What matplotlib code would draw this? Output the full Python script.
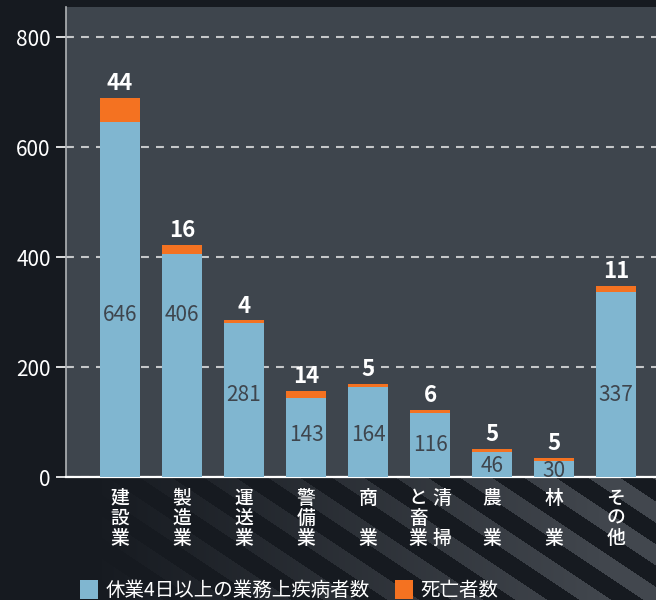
import numpy as np
import matplotlib
matplotlib.use("Agg")
import matplotlib.pyplot as plt
from matplotlib.transforms import ScaledTranslation, blended_transform_factory
from matplotlib.patches import Patch

plt.rcParams['font.family'] = ['Noto Sans CJK JP', 'DejaVu Sans']

# ---- data ----
categories = ["建設業", "製造業", "運送業", "警備業", "商業", "清掃と畜業", "農業", "林業", "その他"]
# vertical label layout (columns, each 3 rows; full-width space = blank row)
label_columns = [["建設業"], ["製造業"], ["運送業"], ["警備業"], ["商　業"],
                 ["と畜業", "清　掃"], ["農　業"], ["林　業"], ["その他"]]
illness = [646, 406, 281, 143, 164, 116, 46, 30, 337]
deaths = [44, 16, 4, 14, 5, 6, 5, 5, 11]
inner_label_y = [295, 295, 149, 76, 76, 58, 20, 11, 149]
yticks = [0, 200, 400, 600, 800]
legend_labels = ["休業4日以上の業務上疾病者数", "死亡者数"]

BG = "#161a20"
PLOT_BG = "#3e454d"
BLUE = "#80b6d0"
ORANGE = "#f47221"

fig = plt.figure(figsize=(6.56, 6.0), dpi=100, facecolor=BG)

# decorative diagonal stripes in the lower band
bgax = fig.add_axes([0, 0, 1, 123 / 600], zorder=-10)
H, W = 123, 656
yy, xx = np.mgrid[0:H, 0:W]
yy = yy + 477
P = 64.0
stripe = (((xx - 1.5 * yy) % P) < P / 2).astype(float)
alpha = np.clip((xx - 90) / 520.0, 0, 1)
base = np.array([0x16, 0x1a, 0x20]) / 255.0
light = np.array([0x42, 0x47, 0x4e]) / 255.0
img = base[None, None, :] + (light - base)[None, None, :] * (stripe * alpha)[..., None]
bgax.imshow(img, extent=[0, W, 0, H], aspect='auto', interpolation='bilinear')
bgax.set_axis_off()

ax = fig.add_axes([66 / 656, 123 / 600, 590 / 656, 470 / 600])
ax.set_facecolor(PLOT_BG)

x = np.arange(len(categories))
width = 0.66
b1 = ax.bar(x, illness, width, color=BLUE, zorder=3)
b2 = ax.bar(x, deaths, width, bottom=illness, color=ORANGE, zorder=3)

ax.set_xlim(-0.871, 8.645)
ax.set_ylim(0, 855)
ax.set_yticks(yticks)
ax.set_yticklabels([str(t) for t in yticks])
ax.set_xticks([])

ax.yaxis.grid(True, color="#c6c8ca", linewidth=1.5, linestyle=(0, (3.8, 3.4)), zorder=1)
ax.set_axisbelow(True)
ax.tick_params(axis='y', colors="white", labelcolor="white", labelsize=15,
               length=7, width=1.2, pad=4)

for s in ["top", "right"]:
    ax.spines[s].set_visible(False)
ax.spines["left"].set_color("#b0b3b6")
ax.spines["left"].set_linewidth(1.2)
ax.spines["bottom"].set_color("white")
ax.spines["bottom"].set_linewidth(1.6)

# value labels
for i, (v, d, ly, rect) in enumerate(zip(illness, deaths, inner_label_y, b1.patches)):
    t = ax.text(i, ly, str(v), ha='center', va='center', fontsize=15,
                color=PLOT_BG, zorder=5)
    t.set_clip_path(rect)
    ax.annotate(str(d), (i, v + d), xytext=(0, 2), textcoords='offset points',
                ha='center', va='bottom', fontsize=16, fontweight='bold',
                color='white', zorder=5)

# vertical category labels
btrans = blended_transform_factory(ax.transData, ax.transAxes)
row_px = [21, 41, 62]
for i, cols in enumerate(label_columns):
    n = len(cols)
    offsets = [0] if n == 1 else [-12, 12]
    for col, dx in zip(cols, offsets):
        for r, ch in enumerate(col):
            if ch == "　":
                continue
            tr = btrans + ScaledTranslation(dx / 100, -row_px[r] / 100, fig.dpi_scale_trans)
            ax.text(i, 0, ch, transform=tr, ha='center', va='center',
                    fontsize=13.5, fontweight='medium', color='white', clip_on=False)

handles = [Patch(facecolor=BLUE, edgecolor='none'), Patch(facecolor=ORANGE, edgecolor='none')]
leg = fig.legend(handles, legend_labels, loc='center left', bbox_to_anchor=(80 / 656, 9.5 / 600),
                 ncol=2, frameon=False, fontsize=14, handlelength=0.95, handleheight=1.15,
                 handletextpad=0.35, columnspacing=1.3, borderpad=0, borderaxespad=0)
for t in leg.get_texts():
    t.set_color('white')

fig.savefig("out.png", dpi=100, facecolor=BG)
